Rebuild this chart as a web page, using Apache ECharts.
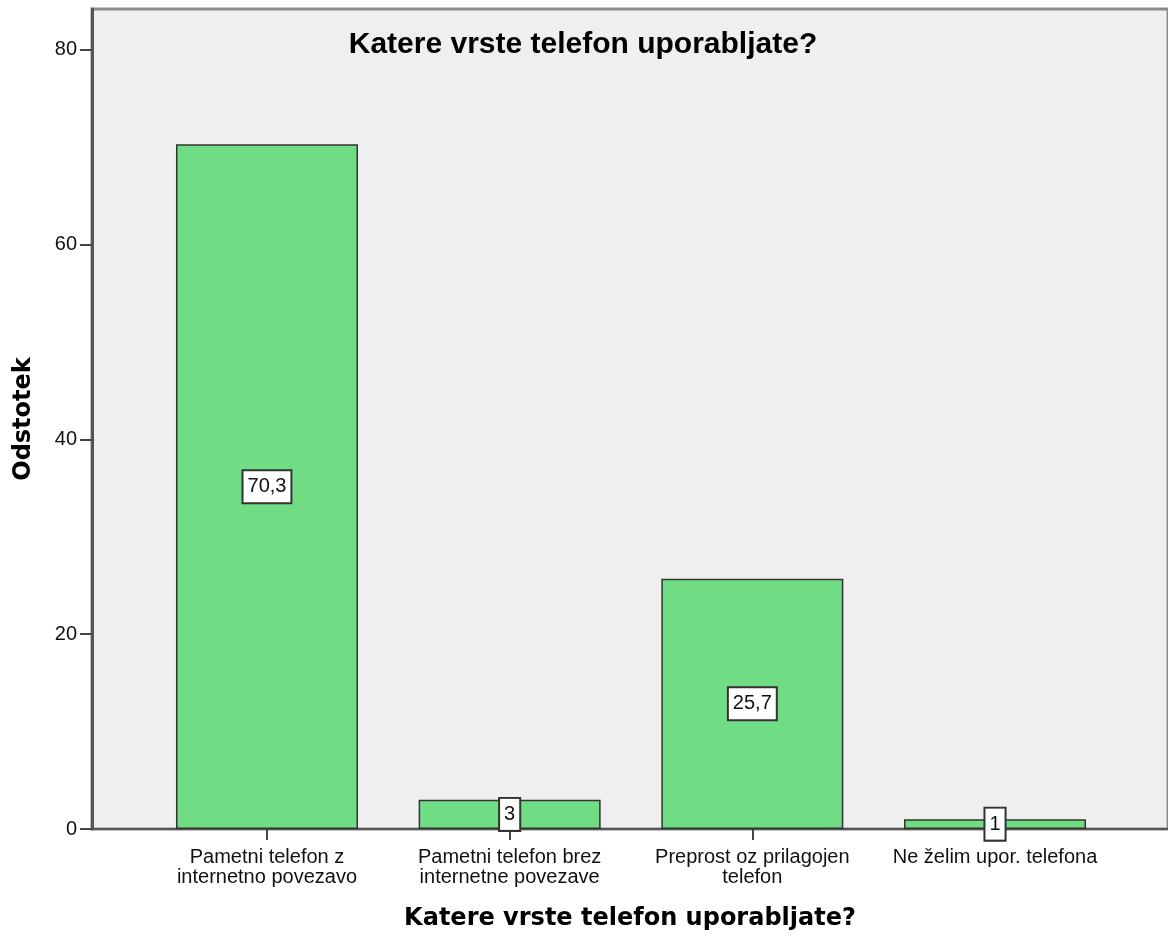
<!DOCTYPE html>
<html>
<head>
<meta charset="utf-8">
<title>Katere vrste telefon uporabljate?</title>
<script src="https://cdn.jsdelivr.net/npm/echarts@6/dist/echarts.min.js"></script>
<style>
    html, body { margin: 0; padding: 0; background: #fff; }
    #chart { width: 1168px; height: 938px; }
</style>
</head>
<body>
<div id="chart"></div>
<script>
// podatki
var categories = ['Pametni telefon z\ninternetno povezavo', 'Pametni telefon brez\ninternetne povezave', 'Preprost oz prilagojen\ntelefon', 'Ne želim upor. telefona'];
var positions = [1, 2, 3, 4];
var percents = [70.3, 3, 25.7, 1];
var yTicks = [0, 20, 40, 60, 80];

function chart_display(){
    var barData = [];
    for(var i = 0; i < positions.length; i++){
        barData.push([positions[i], percents[i]]);
    }
    var chart = echarts.init(document.getElementById('chart'));
    var option = {
        animation: false,
        title: {
            text: 'Katere vrste telefon uporabljate?',
            left: 578,
            top: 25,
            textAlign: 'center',
            textStyle: {
                fontFamily: 'Liberation Sans',
                fontSize: 30,
                fontWeight: 'bold',
                color: '#000'
            }
        },
        grid: {
            left: 92,
            right: 0,
            top: 9,
            bottom: 109,
            outerBoundsMode: 'none',
            show: true,
            backgroundColor: '#efefef',
            borderColor: '#8a8a8a',
            borderWidth: 3
        },
        xAxis: {
            type: 'value',
            min: 0.279,
            max: 4.7128,
            splitLine: { show: false },
            axisLine: { show: true, lineStyle: { color: '#555', width: 2 } },
            axisTick: {
                show: true,
                length: 11,
                customValues: positions,
                lineStyle: { color: '#444', width: 2 }
            },
            axisLabel: {
                customValues: positions,
                margin: 18,
                fontFamily: 'Liberation Sans',
                fontSize: 20,
                lineHeight: 20,
                color: '#111',
                formatter: function(v){
                    var idx = positions.indexOf(Math.round(v));
                    return idx >= 0 ? categories[idx] : '';
                }
            },
            name: 'Katere vrste telefon uporabljate?',
            nameLocation: 'middle',
            nameGap: 78,
            nameTextStyle: {
                fontFamily: 'DejaVu Sans',
                fontSize: 24,
                fontWeight: 'bold',
                color: '#000'
            }
        },
        yAxis: {
            type: 'value',
            min: 0,
            max: 84.2,
            interval: 20,
            splitLine: { show: false },
            axisLine: { show: true, lineStyle: { color: '#555', width: 3 } },
            axisTick: {
                show: true,
                length: 12,
                customValues: yTicks,
                lineStyle: { color: '#444', width: 2 }
            },
            axisLabel: {
                customValues: yTicks,
                margin: 15,
                fontFamily: 'Liberation Sans',
                fontSize: 20,
                color: '#111'
            },
            name: 'Odstotek',
            nameLocation: 'middle',
            nameGap: 56,
            nameTextStyle: {
                fontFamily: 'DejaVu Sans',
                fontSize: 24,
                fontWeight: 'bold',
                color: '#000'
            }
        },
        series: [{
            type: 'bar',
            barWidth: 182,
            data: barData,
            itemStyle: {
                color: '#70dd84',
                borderColor: '#333',
                borderWidth: 1.5
            },
            label: {
                show: true,
                position: 'inside',
                fontFamily: 'Liberation Sans',
                fontSize: 20,
                color: '#111',
                backgroundColor: '#fff',
                borderColor: '#333',
                borderWidth: 2,
                padding: [6, 4, 5, 4],
                formatter: function(p){
                    return String(p.value[1]).replace('.', ',');
                }
            }
        }]
    };
    chart.setOption(option);
}

chart_display();
</script>
</body>
</html>
